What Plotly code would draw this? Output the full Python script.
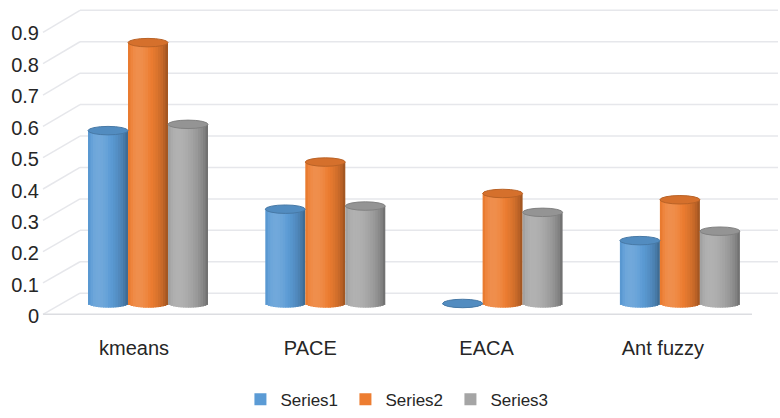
import math
import plotly.graph_objects as go

# ---------------- data ----------------
categories = ["kmeans", "PACE", "EACA", "Ant fuzzy"]
series_names = ["Series1", "Series2", "Series3"]
series1 = [0.55, 0.30, 0.0, 0.20]
series2 = [0.83, 0.45, 0.35, 0.33]
series3 = [0.57, 0.31, 0.29, 0.23]
y_tick_vals = [0, 0.1, 0.2, 0.3, 0.4, 0.5, 0.6, 0.7, 0.8, 0.9]
y_tick_text = ["0", "0.1", "0.2", "0.3", "0.4", "0.5", "0.6", "0.7", "0.8", "0.9"]

series_values = [series1, series2, series3]
base_colors = ["#5b9bd5", "#ed7d31", "#a5a5a5"]

# ---------------- geometry (pixels) ----------------
W, H = 780, 418
ML, MR, MT, MB = 40, 2, 0, 82
DX0, DX1 = ML, W - MR
DY0, DY1 = MT, H - MB           # top / bottom of plot domain in px


def yrange(p0, s):
    """axis range so that value 0 is at pixel p0 (from top), s px per unit"""
    return [-(DY1 - p0) / s, (p0 - DY0) / s]


def xrange_(c0, sp):
    return [(DX0 - c0) / sp, (DX1 - c0) / sp]


def paper_x(px):
    return (px - DX0) / (DX1 - DX0)


FRONT_P0, FRONT_S = 322.0, 320.0   # tick label (front edge) scale
BAR_P0, BAR_S = 309.0, 320.0       # bar (mid depth) scale
BACK_P0, BACK_S = 298.5, 320.0     # back-wall gridline scale
FLOOR_P = 320.0

BAR_C0, BAR_SP = 148.0, 177.3
LAB_C0, LAB_SP = 134.0, 176.3

bar_w = 40.0 / BAR_SP
half_h = 4.3 / BAR_S               # half height of ellipse cap (data units)
N = 16


def shade(hexc, f):
    r, g, b = int(hexc[1:3], 16), int(hexc[3:5], 16), int(hexc[5:7], 16)
    out = []
    for c in (r, g, b):
        if f >= 1:
            v = c + (255 - c) * (f - 1) * 2.2
        else:
            v = c * f
        out.append(max(0, min(255, int(round(v)))))
    return "rgb(%d,%d,%d)" % tuple(out)


fig = go.Figure()

# legend entries
for s, name in enumerate(series_names):
    fig.add_trace(go.Bar(
        x=[categories[0]], y=[0], width=0.0001, name=name,
        marker=dict(color=base_colors[s], line=dict(width=0)),
        xaxis="x", yaxis="y2", showlegend=True, hoverinfo="skip"))

# cylinder bodies made of thin vertical slices
for s, vals in enumerate(series_values):
    start = -1.5 * bar_w + s * bar_w
    for k in range(N):
        t = -1 + (2 * k + 1) / N
        theta = math.asin(t)
        f = 0.74 + 0.32 * math.cos(theta + 0.5)
        arc = half_h * math.sqrt(1 - t * t)
        extra = 0.8 / BAR_SP if k < N - 1 else 0
        fig.add_trace(go.Bar(
            x=categories,
            y=[v + arc for v in vals],
            base=[-arc] * len(vals),
            width=bar_w / N + extra,
            offset=start + k * bar_w / N,
            marker=dict(color=shade(base_colors[s], f), line=dict(width=0)),
            xaxis="x", yaxis="y2", showlegend=False, hoverinfo="skip"))

# invisible anchor traces for the helper axes
fig.add_trace(go.Scatter(x=[0, 3], y=[0, 0], xaxis="x2", yaxis="y", mode="markers",
                         marker=dict(opacity=0), showlegend=False, hoverinfo="skip"))
fig.add_trace(go.Scatter(x=[categories[0]], y=[0], xaxis="x", yaxis="y3", mode="markers",
                         marker=dict(opacity=0), showlegend=False, hoverinfo="skip"))
fig.add_trace(go.Scatter(x=[categories[0]], y=[0], xaxis="x", yaxis="y", mode="markers",
                         marker=dict(opacity=0), showlegend=False, hoverinfo="skip"))

shapes = []
grid_col = "#e6e7eb"
# back wall grid + slanted side wall lines
for v in y_tick_vals:
    shapes.append(dict(type="line", xref="paper", yref="y3", layer="below",
                       x0=paper_x(80), x1=1, y0=v, y1=v,
                       line=dict(color=grid_col, width=1.5)))
    front_px = FLOOR_P - (FLOOR_P - 33.0) / 0.9 * v
    y_front_in_back = (BACK_P0 - front_px) / BACK_S
    shapes.append(dict(type="line", xref="paper", yref="y3", layer="below",
                       x0=paper_x(43), x1=paper_x(80), y0=y_front_in_back, y1=v,
                       line=dict(color=grid_col, width=1.5)))
# floor front edge
shapes.append(dict(type="line", xref="paper", yref="y3", layer="below",
                   x0=paper_x(43), x1=paper_x(752),
                   y0=(BACK_P0 - FLOOR_P) / BACK_S, y1=(BACK_P0 - FLOOR_P) / BACK_S,
                   line=dict(color="#dcdde1", width=1.5)))

# cylinder caps
for s, vals in enumerate(series_values):
    start = -1.5 * bar_w + s * bar_w
    for i, v in enumerate(vals):
        shapes.append(dict(type="circle", xref="x", yref="y2", layer="above",
                           x0=i + start, x1=i + start + bar_w,
                           y0=v - half_h, y1=v + half_h,
                           fillcolor=shade(base_colors[s], 0.9),
                           line=dict(color=shade(base_colors[s], 0.78), width=1)))

font_fam = "Liberation Sans, Arial, sans-serif"
txt_col = "#262626"

fig.update_layout(
    width=W, height=H,
    margin=dict(l=ML, r=MR, t=MT, b=MB),
    paper_bgcolor="white", plot_bgcolor="white",
    barmode="overlay",
    shapes=shapes,
    showlegend=True,
    legend=dict(orientation="h", x=0.485, xanchor="center",
                y=(DY1 - 407) / (DY1 - DY0), yanchor="middle",
                font=dict(family=font_fam, size=17, color=txt_col),
                entrywidth=60, traceorder="normal", bgcolor="rgba(0,0,0,0)"),
    xaxis=dict(type="category", range=xrange_(BAR_C0, BAR_SP), visible=False,
               fixedrange=True),
    xaxis2=dict(type="linear", range=xrange_(LAB_C0, LAB_SP), overlaying="x",
                anchor="y", side="bottom", ticklabelstandoff=4,
                tickvals=[0, 1, 2, 3], ticktext=categories,
                showgrid=False, zeroline=False, showline=False, ticks="",
                tickfont=dict(family=font_fam, size=20, color=txt_col)),
    yaxis=dict(range=yrange(FRONT_P0, FRONT_S), tickvals=y_tick_vals,
               ticktext=y_tick_text, showgrid=False, zeroline=False,
               showline=False, ticks="",
               tickfont=dict(family=font_fam, size=20, color=txt_col)),
    yaxis2=dict(range=yrange(BAR_P0, BAR_S), overlaying="y", visible=False),
    yaxis3=dict(range=yrange(BACK_P0, BACK_S), overlaying="y", visible=False),
)

fig.write_html("out.html")
